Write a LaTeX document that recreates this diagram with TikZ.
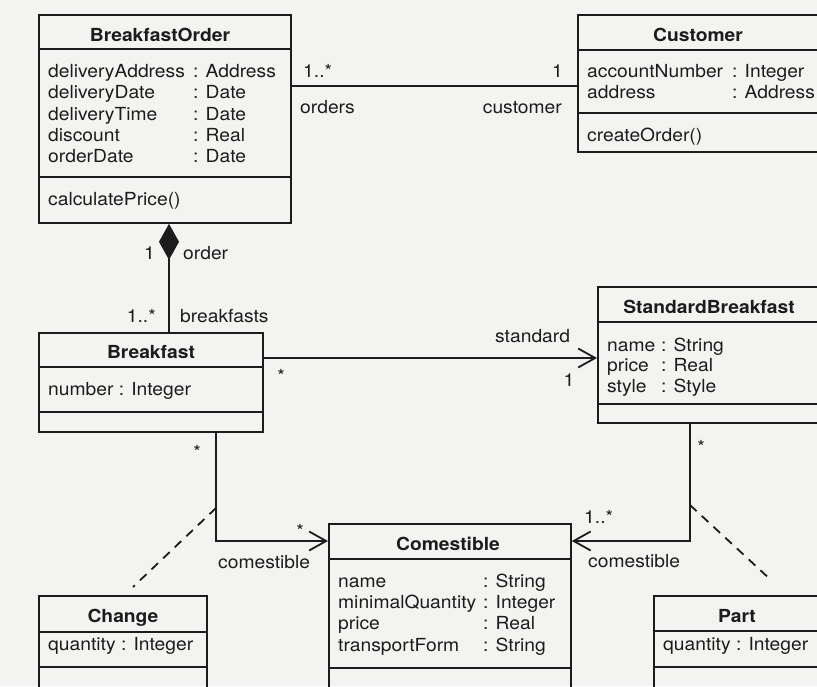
\documentclass[tikz,border=0pt]{standalone}
\usepackage{fontspec}
\setmainfont{TeX Gyre Heros}[FakeStretch=1.07]
\usetikzlibrary{arrows.meta}
\definecolor{paper}{HTML}{F3F3F1}
\definecolor{ink}{HTML}{1C1C1C}
\newcommand\compline[2]{\draw[clsline] (#1.west |- 0,#2) -- (#1.east |- 0,#2);}
\begin{document}
\begin{tikzpicture}[x=1pt,y=-1pt,
  clsline/.style={draw=ink, line width=1.8pt},
  cls/.style={draw=ink, line width=1.8pt, inner sep=0pt, anchor=north west},
  txt/.style={inner sep=0pt, anchor=base west, text=ink, font=\fontsize{18}{21}\selectfont},
  rtxt/.style={txt, anchor=base east},
  ctxt/.style={txt, anchor=base},
  ttl/.style={inner sep=0pt, anchor=base, text=ink, font=\fontsize{18}{21}\selectfont\bfseries},
  assoc/.style={draw=ink, line width=1.8pt},
  nav/.style={assoc, -{Straight Barb[length=17pt,width=19pt,line width=1.8pt]}},
  comp/.style={assoc, -{Diamond[length=36pt,width=20pt,fill=ink,line width=1pt]}},
  dep/.style={draw=ink, line width=1.8pt, dash pattern=on 9pt off 7pt}
]
\useasboundingbox (0,0) rectangle (817,686);
\fill[paper] (0,0) rectangle (817,686);
\clip (0,0) rectangle (817,686);

% ---------- class boxes ----------
\node[cls, minimum width=252pt, minimum height=208pt] (bo) at (38,14) {};
\compline{bo}{49} \compline{bo}{177}
\node[cls, minimum width=245pt, minimum height=137pt] (cu) at (577,14) {};
\compline{cu}{50} \compline{cu}{113}
\node[cls, minimum width=224pt, minimum height=99pt] (br) at (38,332) {};
\compline{br}{367} \compline{br}{412}
\node[cls, minimum width=225pt, minimum height=136pt] (sb) at (597,286) {};
\compline{sb}{322} \compline{sb}{404}
\node[cls, minimum width=242pt, minimum height=180pt] (co) at (328,523) {};
\compline{co}{559} \compline{co}{668}
\node[cls, minimum width=168pt, minimum height=110pt] (ch) at (38,595) {};
\compline{ch}{632} \compline{ch}{667}
\node[cls, minimum width=169pt, minimum height=110pt] (pa) at (653,595) {};
\compline{pa}{631} \compline{pa}{667}

% ---------- BreakfastOrder ----------
\node[ttl] (boT) at (160,41) {BreakfastOrder};
\node[txt] (boA1) at (48,77) {deliveryAddress};   \node[txt] (boB1) at (193,77) {: Address};
\node[txt] (boA2) at (48,98.5) {deliveryDate};    \node[txt] (boB2) at (193,98.5) {: Date};
\node[txt] (boA3) at (48,120) {deliveryTime};     \node[txt] (boB3) at (193,120) {: Date};
\node[txt] (boA4) at (48,141.5) {discount};       \node[txt] (boB4) at (193,141.5) {: Real};
\node[txt] (boA5) at (48,162.5) {orderDate};      \node[txt] (boB5) at (193,162.5) {: Date};
\node[txt] (boO1) at (48,205) {calculatePrice()};

% ---------- Customer ----------
\node[ttl] (cuT) at (698,41) {Customer};
\node[txt] (cuA1) at (587,77) {accountNumber};    \node[txt] (cuB1) at (732,77) {: Integer};
\node[txt] (cuA2) at (587,98.5) {address};        \node[txt] (cuB2) at (732,98.5) {: Address};
\node[txt] (cuO1) at (587,141.5) {createOrder()};

% ---------- Breakfast ----------
\node[ttl] (brT) at (151,358) {Breakfast};
\node[txt] (brA1) at (48,395) {number : Integer};

% ---------- StandardBreakfast ----------
\node[ttl] (sbT) at (709,313) {StandardBreakfast};
\node[txt] (sbA1) at (607,351) {name};   \node[txt] (sbB1) at (661,351) {: String};
\node[txt] (sbA2) at (607,371) {price};  \node[txt] (sbB2) at (661,371) {: Real};
\node[txt] (sbA3) at (607,392) {style};  \node[txt] (sbB3) at (661,392) {: Style};

% ---------- Comestible ----------
\node[ttl] (coT) at (448,550) {Comestible};
\node[txt] (coA1) at (338,587) {name};             \node[txt] (coB1) at (483,587) {: String};
\node[txt] (coA2) at (338,608) {minimalQuantity};  \node[txt] (coB2) at (483,608) {: Integer};
\node[txt] (coA3) at (338,629.5) {price};          \node[txt] (coB3) at (483,629.5) {: Real};
\node[txt] (coA4) at (338,651) {transportForm};    \node[txt] (coB4) at (483,651) {: String};

% ---------- Change / Part ----------
\node[ttl] (chT) at (123,622) {Change};
\node[txt] (chA1) at (48,650) {quantity : Integer};
\node[ttl] (paT) at (737,622) {Part};
\node[txt] (paA1) at (663,650) {quantity : Integer};

% ---------- connectors ----------
\coordinate (rowOrd) at (0,86);
\coordinate (colComp) at (169,0);
\coordinate (rowStd) at (0,358);
\coordinate (colBr) at (216,0);
\coordinate (colSb) at (690,0);
\coordinate (rowCo) at (0,541);

\draw[assoc] (bo.east |- rowOrd) -- (cu.west |- rowOrd);
\draw[comp] (br.north -| colComp) -- (bo.south -| colComp);
\draw[nav] (br.east |- rowStd) -- (sb.west |- rowStd);
\draw[nav] (br.south -| colBr) |- (co.west |- rowCo);
\draw[nav] (sb.south -| colSb) |- (co.east |- rowCo);

% association classes
\coordinate (chFrom) at (216,508);
\coordinate (chTo) at (133,587);
\coordinate (paFrom) at (690,505);
\coordinate (paTo) at (772,581);
\draw[dep] (chFrom) -- (chTo);
\draw[dep] (paFrom) -- (paTo);

% ---------- role names and multiplicities ----------
\node[txt] (m1) at (303,77) {1..*};
\node[txt] (r1) at (300,113) {orders};
\node[rtxt] (m2) at (563,77) {1};
\node[rtxt] (r2) at (562,113) {customer};

\node[rtxt] (m3) at (155,259) {1};
\node[txt] (r3) at (183,259) {order};
\node[rtxt] (m4) at (156,322) {1..*};
\node[txt] (r4) at (180,322) {breakfasts};

\node[txt] (r5) at (495,342) {standard};
\node[ctxt] (m5) at (281,382) {*};
\node[ctxt] (m6) at (569,386) {1};

\node[ctxt] (m7) at (197,458) {*};
\node[ctxt] (m8) at (300,537) {*};
\node[txt] (r6) at (218,568) {comestible};

\node[ctxt] (m9) at (701,453) {*};
\node[txt] (m10) at (584,523) {1..*};
\node[txt] (r7) at (588,567) {comestible};
\end{tikzpicture}
\end{document}
